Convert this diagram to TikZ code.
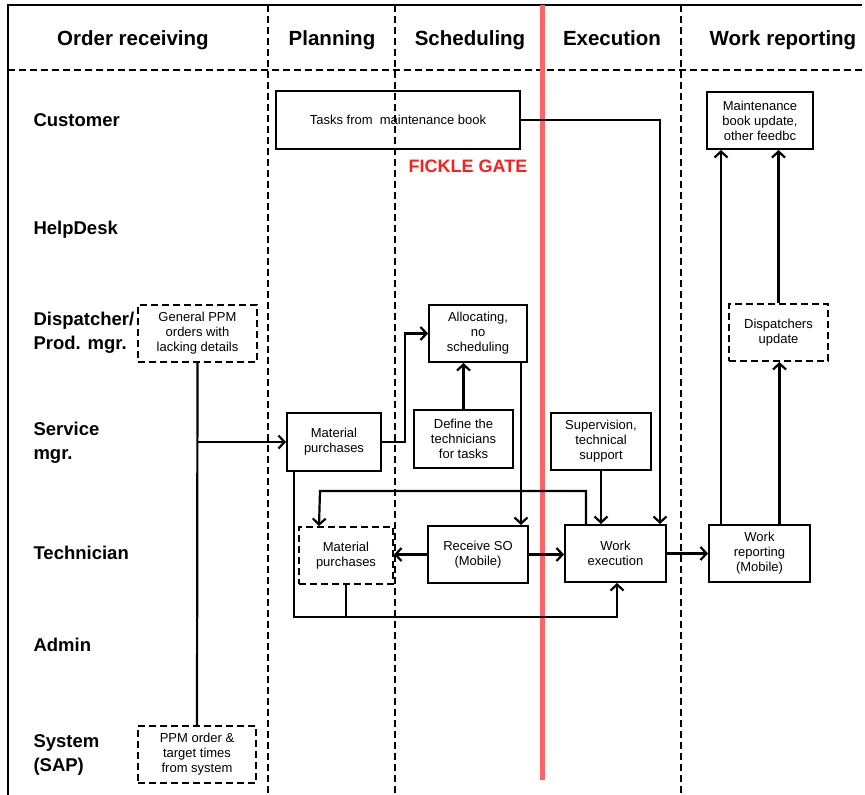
\documentclass[tikz,border=0pt]{standalone}
\usepackage{fontspec}
\setmainfont{Liberation Sans}
\usetikzlibrary{arrows.meta}
\definecolor{gatered}{HTML}{FF6464}
\definecolor{gatetext}{HTML}{FF1E1E}
\tikzset{
  box/.style={draw, line width=2pt, rectangle, align=center, inner sep=2pt,
    font=\fontsize{13}{15}\selectfont},
  dbox/.style={box, dash pattern=on 7pt off 4pt},
  lane/.style={line width=1.1pt, dash pattern=on 7pt off 4pt},
  conn/.style={line width=2.2pt, -{Straight Barb[length=6pt,width=13pt,line width=2.2pt]}},
  plain/.style={line width=2.2pt},
  head/.style={font=\bfseries\fontsize{20.5}{24}\selectfont, anchor=base},
  role/.style={font=\bfseries\fontsize{18.5}{24}\selectfont, anchor=west, align=left},
}
\begin{document}
\begin{tikzpicture}[x=1pt,y=-1pt]
\useasboundingbox (0,0) rectangle (865,795);

% frame and swim-lane grid
\draw[line width=2.5pt] (8,795) -- (8,5) -- (862,5);
\draw[lane] (8,70) -- (862,70);
\foreach \lx in {268,395,681} \draw[lane] (\lx,5) -- (\lx,795);

% phase headers, sharing one baseline
\node[head] (hOrd)  at (133,45) {Order receiving};
\node[head] (hPlan) at (332,45) {Planning};
\node[head] (hSch)  at (470,45) {Scheduling};
\node[head] (hExe)  at (612,45) {Execution};
\node[head] (hRep)  at (783,45) {Work reporting};

% roles
\node[role] (rCust) at (30,120) {Customer};
\node[role] (rHelp) at (30,230) {HelpDesk};
\node[role] (rDisp) at (30,333) {Dispatcher/\\Prod. mgr.};
\node[role] (rServ) at (30,443) {Service\\mgr.};
\node[role] (rTech) at (30,553) {Technician};
\node[role] (rAdm)  at (30,645) {Admin};
\node[role] (rSys)  at (30,755) {System\\(SAP)};

% the gate between scheduling and execution
\draw[gatered, line width=5pt] (542,5) -- (542,780);
\node[text=gatetext, font=\bfseries\fontsize{18}{20}\selectfont] (gate) at (468,166) {FICKLE GATE};

% process steps
\node[box,  minimum width=244pt, minimum height=58pt] (tasks)   at (398,120)   {Tasks from\ \ maintenance book};
\node[box,  minimum width=106pt, minimum height=57pt] (maint)   at (760,120.5) {Maintenance\\book update,\\other feedbc};
\node[dbox, minimum width=119pt, minimum height=57pt] (gen)     at (197.5,333.5) {General PPM\\orders with\\lacking details};
\node[box,  minimum width=98pt,  minimum height=57pt] (alloc)   at (478,333.5) {Allocating,\\no\\scheduling};
\node[dbox, minimum width=99pt,  minimum height=57pt] (disp)    at (778.5,332.5) {Dispatchers\\update};
\node[box,  minimum width=94pt,  minimum height=58pt] (mat1)    at (334,442)   {Material\\purchases};
\node[box,  minimum width=99pt,  minimum height=58pt] (deftech) at (463.5,439) {Define the\\technicians\\for tasks};
\node[box,  minimum width=100pt, minimum height=57pt] (superv)  at (601,441.5) {Supervision,\\technical\\support};
\node[dbox, minimum width=94pt,  minimum height=57pt] (mat2)    at (346,555.5) {Material\\purchases};
\node[box,  minimum width=100pt, minimum height=57pt] (recv)    at (478,554.5) {Receive SO\\(Mobile)};
\node[box,  minimum width=101pt, minimum height=57pt] (exec)    at (615.5,553.5) {Work\\execution};
\node[box,  minimum width=101pt, minimum height=57pt] (rep)     at (759.5,553.5) {Work\\reporting\\(Mobile)};
\node[dbox, minimum width=118pt, minimum height=57pt] (ppm)     at (197,754.5) {PPM order \&\\target times\\from system};

% helper points
\coordinate (split) at (gen.south |- mat1.west);
\coordinate (bot) at (617,617);

% flows
\draw[plain] (gen.south) -- (ppm.north);
\draw[conn] (split) -- (mat1.west);
\draw[conn] (mat1.east) -- ++(23,0) |- (alloc.west);
\draw[conn] (deftech.north) -- (deftech.north |- alloc.south);
\draw[conn] ([xshift=-7pt]alloc.south east) -- ([xshift=-7pt]alloc.south east |- recv.north);
\draw[conn] (tasks.east) -| ([xshift=-7pt]exec.north east);
\draw[conn] (superv.south) -- (superv.south |- exec.north);
\draw[conn] ([xshift=22pt]exec.north west) |- (320,491) -- ([xshift=21pt]mat2.north west);
\draw[conn] (recv.west) -- (mat2.east |- recv.west);
\draw[conn] (recv.east) -- (exec.west |- recv.east);
\draw[conn] ([xshift=8pt]mat1.south west) |- (bot) -- (bot |- exec.south);
\draw[plain] ([xshift=48pt]mat2.south west) -- ([xshift=48pt]mat2.south west |- bot);
\draw[conn] (exec.east) -- (rep.west |- exec.east);
\draw[conn] ([xshift=13pt]rep.north west) -- ([xshift=13pt]rep.north west |- maint.south);
\draw[conn] ([xshift=20pt]rep.north) -- ([xshift=20pt]rep.north |- disp.south);
\draw[conn] (disp.north) -- (disp.north |- maint.south);
\end{tikzpicture}
\end{document}
